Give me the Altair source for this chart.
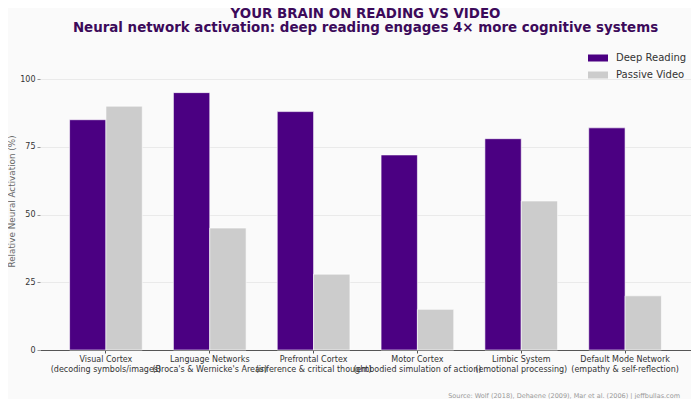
import altair as alt
import pandas as pd

regions = [
    "Visual Cortex\n(decoding symbols/images)",
    "Language Networks\n(Broca's & Wernicke's Areas)",
    "Prefrontal Cortex\n(inference & critical thought)",
    "Motor Cortex\n(embodied simulation of action)",
    "Limbic System\n(emotional processing)",
    "Default Mode Network\n(empathy & self-reflection)",
]
deep_reading = [85, 95, 88, 72, 78, 82]
passive_video = [90, 45, 28, 15, 55, 20]
series = ["Deep Reading", "Passive Video"]
colors = ["#4B0082", "#cccccc"]
source_text = "Source: Wolf (2018), Dehaene (2009), Mar et al. (2006) | jeffbullas.com"

rows = []
for r, d, p in zip(regions, deep_reading, passive_video):
    rows.append({"region": r, "series": series[0], "value": d})
    rows.append({"region": r, "series": series[1], "value": p})
df = pd.DataFrame(rows)

FONT = "DejaVu Sans"

bars = alt.Chart(df).mark_bar(stroke="white", strokeWidth=0.6).encode(
    x=alt.X("region:N", sort=regions,
            scale=alt.Scale(paddingInner=0.3, paddingOuter=0.285),
            axis=alt.Axis(title=None, labelAngle=0, labelExpr="split(datum.label, '\\n')",
                          labelFontSize=8, labelColor="#333333", labelFont=FONT,
                          labelOverlap=False, labelLineHeight=10.5, labelPadding=2,
                          tickSize=3, tickColor="#555555", domainColor="#555555",
                          domainWidth=1, grid=False, labelBound=False)),
    xOffset=alt.XOffset("series:N", sort=series,
                        scale=alt.Scale(paddingInner=0, paddingOuter=0)),
    y=alt.Y("value:Q", scale=alt.Scale(domain=[0, 110], nice=False),
            axis=alt.Axis(title="Relative Neural Activation (%)", values=[0, 25, 50, 75, 100],
                          titleFontSize=8.8, titleColor="#666666", titleFont=FONT,
                          titleFontWeight="normal", titlePadding=3,
                          labelFontSize=8, labelColor="#333333", labelFont=FONT,
                          tickSize=3, tickColor="#999999", domain=False,
                          grid=True, gridColor="#e6e6e6", gridWidth=0.8)),
    color=alt.Color("series:N", sort=series,
                    scale=alt.Scale(domain=series, range=colors),
                    legend=alt.Legend(title=None, orient="none", legendX=548, legendY=-4,
                                      symbolType="M-1,-0.35L1,-0.35L1,0.35L-1,0.35Z",
                                      symbolSize=400, symbolStrokeWidth=0,
                                      labelFontSize=10, labelFont=FONT, labelColor="#333333",
                                      rowPadding=2, labelOffset=8)),
)

src = alt.Chart(pd.DataFrame({"t": [source_text]})).mark_text(
    align="right", baseline="middle", fontSize=6.5, font=FONT, color="#999999"
).encode(text="t:N", x=alt.value(640), y=alt.value(344))

chart = alt.layer(bars, src).properties(
    width=651, height=298,
    autosize=alt.AutoSizeParams(type="none"),
    padding={"left": 32, "top": 44, "right": 0, "bottom": 49},
    background="#fafafa",
    title=alt.TitleParams(
        text="YOUR BRAIN ON READING VS VIDEO",
        subtitle="Neural network activation: deep reading engages 4× more cognitive systems",
        anchor="middle", frame="group", font=FONT, fontSize=13.4, fontWeight="bold",
        color="#3c0a5a", subtitleFont=FONT, subtitleFontSize=13.4,
        subtitleFontWeight="bold", subtitleColor="#3c0a5a", subtitlePadding=0, offset=14,
    ),
).configure_view(stroke=None)

chart.save("out.html", embed_options={"renderer": "svg", "actions": False})
